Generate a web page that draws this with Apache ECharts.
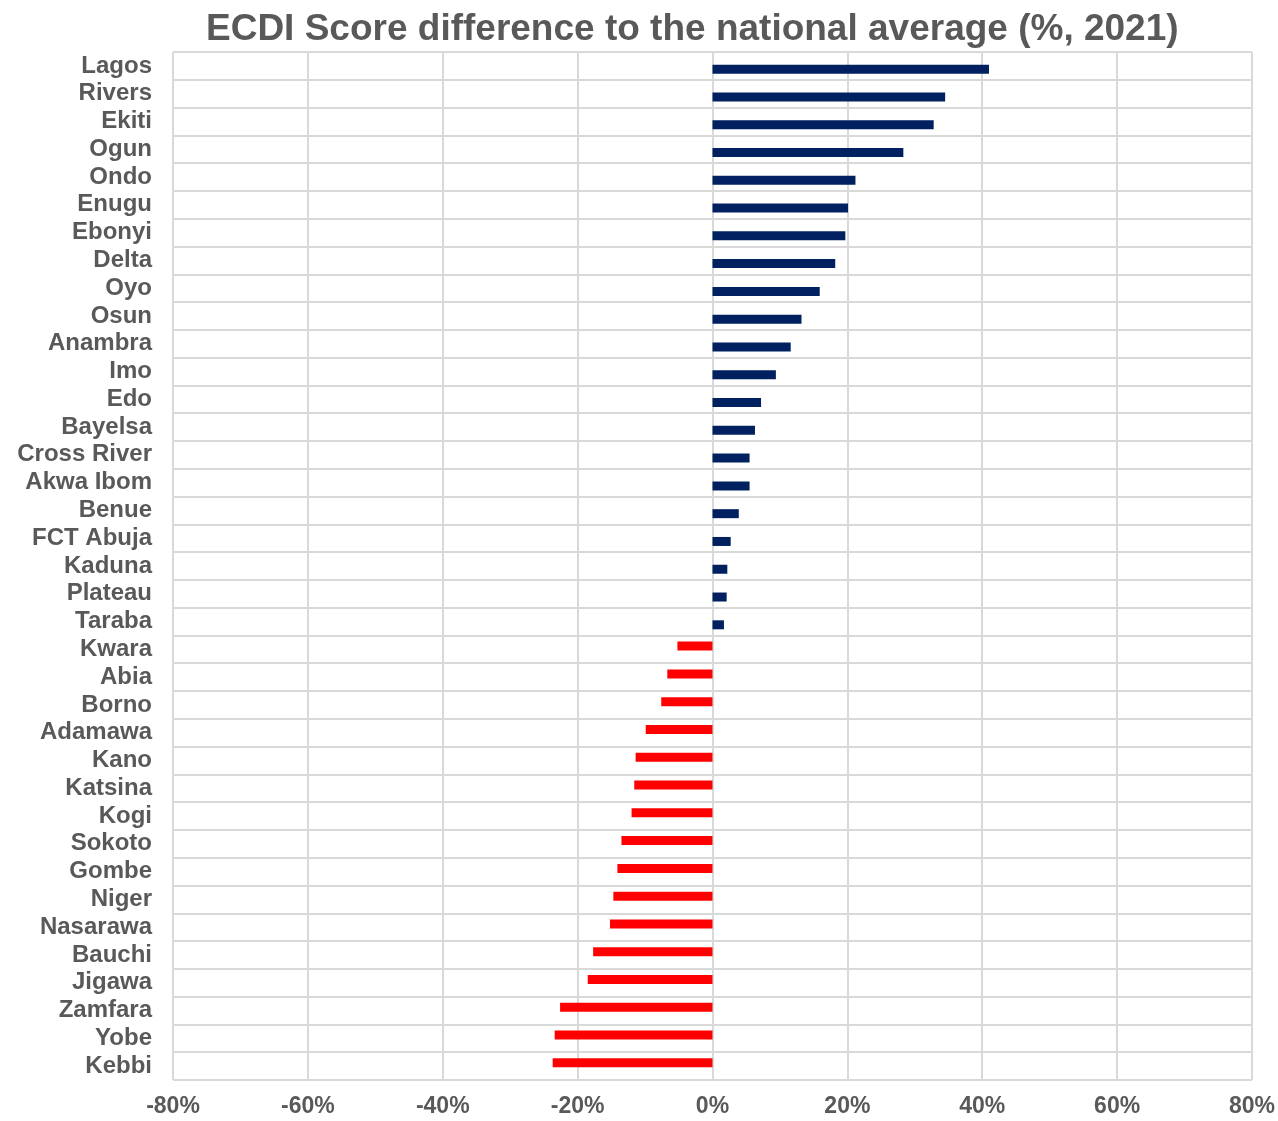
<!DOCTYPE html>
<html>
<head>
<meta charset="utf-8">
<script src="https://cdn.jsdelivr.net/npm/echarts@6/dist/echarts.min.js"></script>
<style>
  html, body { margin: 0; padding: 0; background: #fff; }
  #chart { width: 1278px; height: 1121px; }
</style>
</head>
<body>
<div id="chart"></div>
<script>
// States, top to bottom
const states = [
  'Lagos', 'Rivers', 'Ekiti', 'Ogun', 'Ondo', 'Enugu', 'Ebonyi', 'Delta', 'Oyo', 'Osun',
  'Anambra', 'Imo', 'Edo', 'Bayelsa', 'Cross River', 'Akwa Ibom', 'Benue', 'FCT Abuja',
  'Kaduna', 'Plateau', 'Taraba', 'Kwara', 'Abia', 'Borno', 'Adamawa', 'Kano', 'Katsina',
  'Kogi', 'Sokoto', 'Gombe', 'Niger', 'Nasarawa', 'Bauchi', 'Jigawa', 'Zamfara', 'Yobe', 'Kebbi'
];

// ECDI score difference to the national average, in %
const diffPct = [
  41.0, 34.5, 32.8, 28.3, 21.2, 20.1, 19.7, 18.2, 15.9, 13.2,
  11.6, 9.4, 7.2, 6.3, 5.5, 5.5, 3.9, 2.7,
  2.2, 2.1, 1.7, -5.2, -6.7, -7.6, -9.9, -11.4, -11.6,
  -12.0, -13.5, -14.1, -14.7, -15.2, -17.7, -18.5, -22.6, -23.4, -23.7
];

// x-axis ticks
const xTicks = [-80, -60, -40, -20, 0, 20, 40, 60, 80];

const above = diffPct.map(v => (v >= 0 ? v : null));
const below = diffPct.map(v => (v < 0 ? v : null));

const textColor = '#595959';
const gridColor = '#D9D9D9';
const font = '"Liberation Sans", Arial, sans-serif';

const chart = echarts.init(document.getElementById('chart'), null, { renderer: 'canvas' });
chart.setOption({
  backgroundColor: '#ffffff',
  animation: false,
  title: {
    text: 'ECDI Score difference to the national average (%, 2021)',
    left: 201,
    top: 6,
    textStyle: { fontFamily: font, fontWeight: 'bold', fontSize: 37, color: textColor }
  },
  grid: { left: 173, right: 24, top: 52, bottom: 41, containLabel: false },
  xAxis: {
    type: 'value',
    min: xTicks[0],
    max: xTicks[xTicks.length - 1],
    interval: 20,
    axisLine: { show: false },
    axisTick: { show: false },
    splitLine: { show: true, lineStyle: { color: gridColor, width: 2 } },
    axisLabel: {
      formatter: '{value}%',
      fontFamily: font, fontWeight: 'bold', fontSize: 23, color: textColor, margin: 15
    }
  },
  yAxis: {
    type: 'category',
    inverse: true,
    data: states,
    axisLine: { show: false },
    axisTick: { show: false },
    splitLine: { show: true, lineStyle: { color: gridColor, width: 2 } },
    axisLabel: {
      fontFamily: font, fontWeight: 'bold', fontSize: 24, color: textColor, margin: 21, interval: 0
    }
  },
  series: [
    {
      name: 'below',
      type: 'bar',
      data: below,
      barWidth: 9,
      barGap: '-28%',
      itemStyle: { color: '#FF0000' }
    },
    {
      name: 'above',
      type: 'bar',
      data: above,
      barWidth: 9,
      itemStyle: { color: '#002060' }
    }
  ]
});
</script>
</body>
</html>
